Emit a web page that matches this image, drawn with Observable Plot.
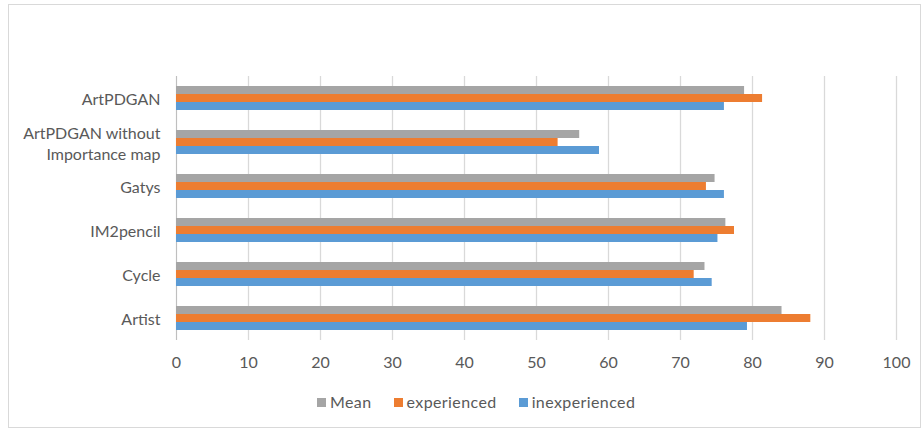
<!DOCTYPE html>
<html><head><meta charset="utf-8">
<script src="https://cdn.jsdelivr.net/npm/d3@7"></script>
<script src="https://cdn.jsdelivr.net/npm/@observablehq/plot@0.6"></script>
<style>
body{margin:0;background:#fff;font-family:Lato,sans-serif;}
#frame{position:absolute;left:8px;top:4px;width:913px;height:424px;border:1px solid #d9d9d9;box-sizing:border-box;}
#chart{position:absolute;left:0;top:0;}
#legend{position:absolute;top:393px;left:317px;display:flex;gap:22px;color:#595959;font-size:16px;line-height:18px;letter-spacing:0.4px;font-family:Lato,sans-serif;}
#legend .item{display:flex;align-items:center;}
#legend .sw{width:9px;height:9px;margin-right:4px;display:inline-block;}
</style></head><body>
<div id="frame"></div><div id="chart"></div><div id="legend"></div>
<script>
const categories = ["ArtPDGAN","ArtPDGAN without Importance map","Gatys","IM2pencil","Cycle","Artist"];
const categoryLabels = ["ArtPDGAN","ArtPDGAN without\nImportance map","Gatys","IM2pencil","Cycle","Artist"];
const series = ["Mean","experienced","inexperienced"];
const seriesColors = ["#A5A5A5","#ED7D31","#5B9BD5"];
const meanValues = [78.9,56.0,74.8,76.3,73.4,84.1];
const experiencedValues = [81.4,53.0,73.6,77.5,71.9,88.1];
const inexperiencedValues = [76.1,58.75,76.1,75.2,74.4,79.3];
const xTicks = [0,10,20,30,40,50,60,70,80,90,100];

const valuesBySeries = [meanValues, experiencedValues, inexperiencedValues];
const data = [];
categories.forEach((c, i) => series.forEach((s, j) => data.push({category: c, series: s, value: valuesBySeries[j][i]})));
const labelData = categories.map((c, i) => ({category: c, label: categoryLabels[i]}));

const chart = Plot.plot({
  width: 923,
  height: 380,
  marginTop: 75,
  marginBottom: 40,
  marginLeft: 176,
  marginRight: 27,
  style: {fontFamily: "Lato, sans-serif", fontSize: "16px", color: "#595959", background: "transparent"},
  fy: {domain: categories, padding: 0, axis: null, label: null},
  y: {domain: series, paddingInner: 0, paddingOuter: 1.03, axis: null},
  x: {domain: [0, 100], ticks: xTicks, tickSize: 0, tickPadding: 16, label: null, axis: "bottom"},
  color: {domain: series, range: seriesColors},
  marks: [
    Plot.ruleX(xTicks, {stroke: "#d9d9d9", strokeWidth: 1.3}),
    Plot.ruleX([0], {stroke: "#bfbfbf", strokeWidth: 1}),
    Plot.barX(data, {fy: "category", y: "series", x: "value", fill: "series"}),
    Plot.text(labelData, {fy: "category", text: "label", frameAnchor: "left", textAnchor: "end", dx: -16, lineHeight: 1.35, fill: "#595959", fontSize: 16})
  ]
});
document.getElementById("chart").appendChild(chart);

const legend = document.getElementById("legend");
series.forEach((s, i) => {
  const item = document.createElement("div");
  item.className = "item";
  const sw = document.createElement("span");
  sw.className = "sw";
  sw.style.background = seriesColors[i];
  const t = document.createElement("span");
  t.textContent = s;
  item.appendChild(sw); item.appendChild(t);
  legend.appendChild(item);
});
</script>
</body></html>
